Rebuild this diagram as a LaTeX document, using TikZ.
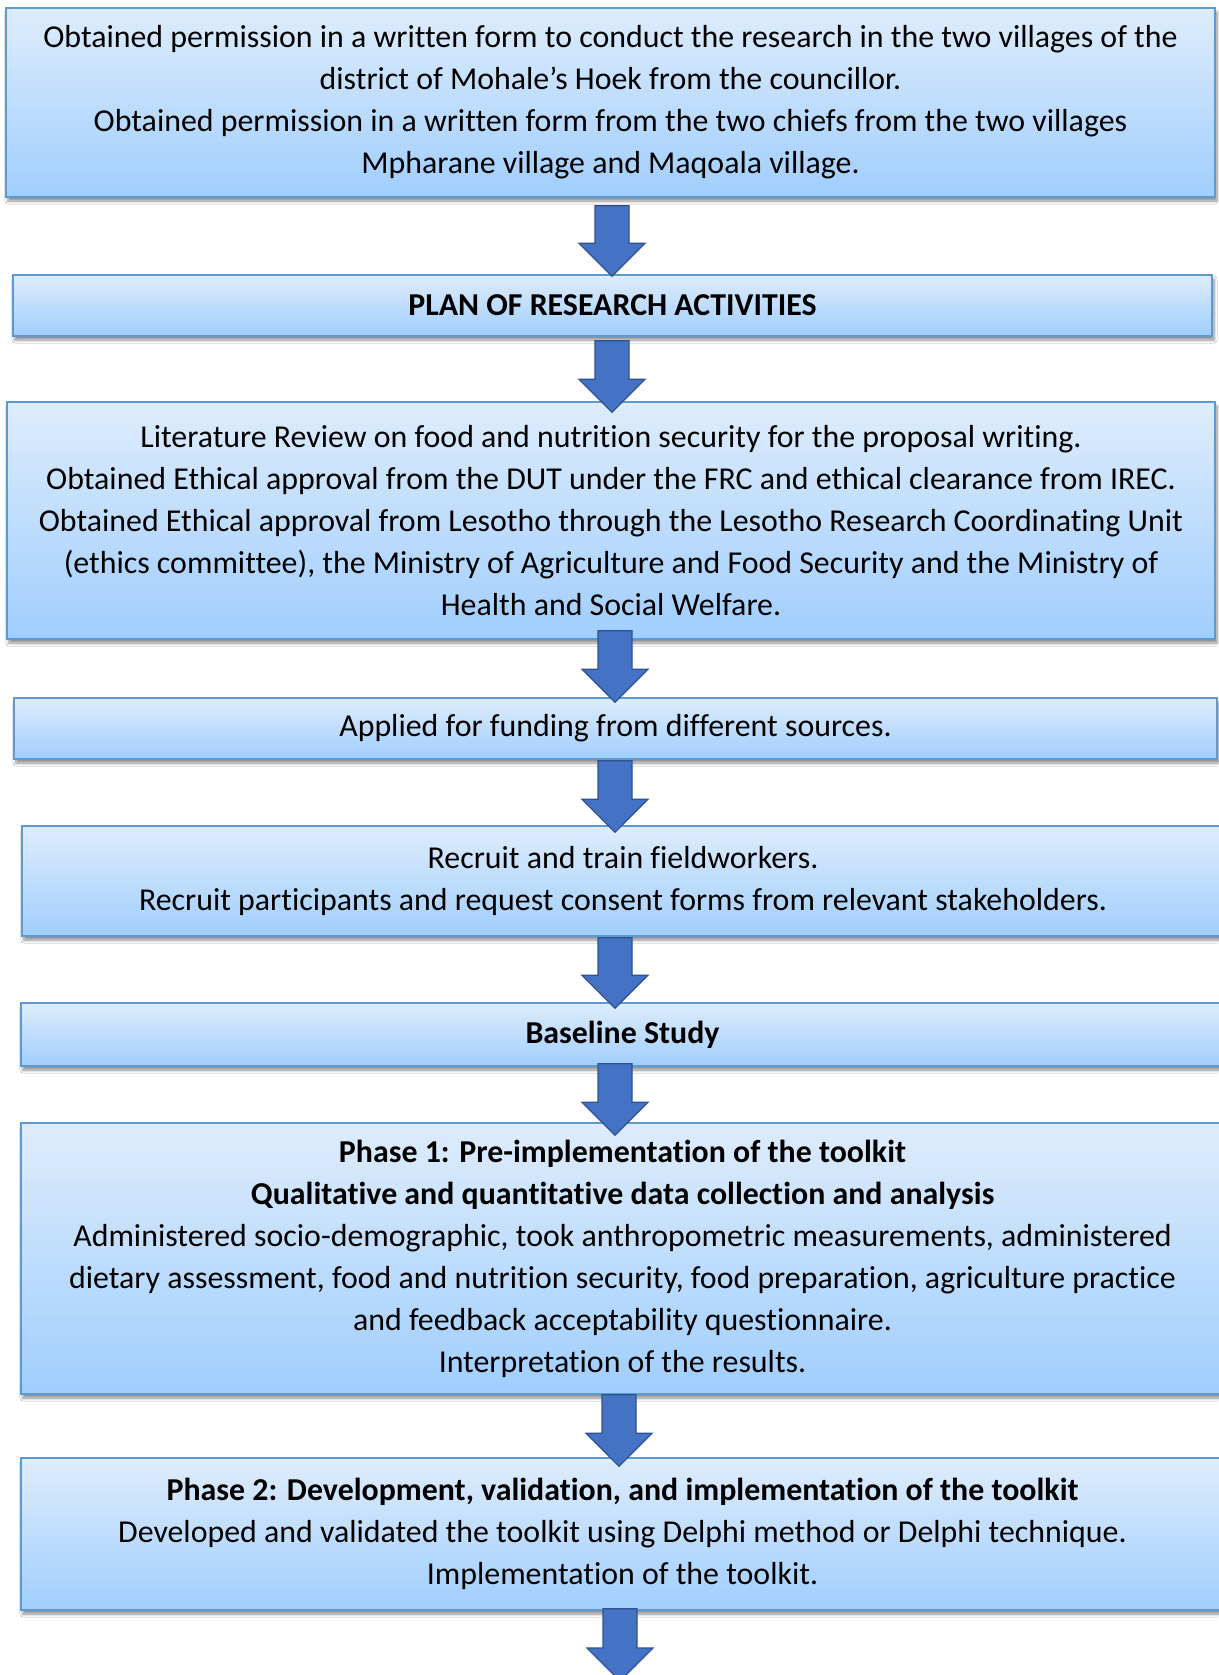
\documentclass[tikz,border=0pt]{standalone}
\usepackage{fontspec}
\setmainfont{Carlito}[Ligatures={NoCommon}]
\usetikzlibrary{calc,shadows.blur}

\definecolor{boxtop}{HTML}{DEECFC}
\definecolor{boxbot}{HTML}{A0CEFD}
\definecolor{boxline}{HTML}{5B9BD5}
\definecolor{arrowfill}{HTML}{4472C4}
\definecolor{arrowline}{HTML}{2F528F}

\tikzset{
  stagebox/.style={
    rectangle, draw=boxline, line width=1.6bp,
    top color=boxtop, bottom color=boxbot,
    inner sep=0pt, align=center,
    font=\fontsize{32}{42.2}\selectfont,
    blur shadow={shadow xshift=2bp, shadow yshift=-4bp,
      shadow blur radius=3bp, shadow blur steps=6, shadow opacity=45}
  },
  blockarrow/.style={fill=arrowfill, draw=arrowline, line width=1.2bp, line join=miter}
}

% block arrow from a start point down to a tip point
\newcommand\flowarrow[2]{%
  \path[blockarrow] let \p1=(#1), \p2=(#2) in
    (\x1-17bp,\y1) -- (\x1+17bp,\y1) -- (\x1+17bp,\y2+33bp)
    -- (\x1+33bp,\y2+33bp) -- (\x1,\y2) -- (\x1-33bp,\y2+33bp)
    -- (\x1-17bp,\y2+33bp) -- cycle;}

\begin{document}
\begin{tikzpicture}[x=1bp,y=-1bp]
\useasboundingbox[fill=white] (0,0) rectangle (1218,1675);

\node[stagebox, minimum width=1209bp, minimum height=189bp] (b1) at (610.5,102.5)
  {Obtained permission in a written form to conduct the research in the two villages of the\\
   district of Mohale’s Hoek from the councillor.\\
   Obtained permission in a written form from the two chiefs from the two villages\\
   Mpharane village and Maqoala village.};

\node[stagebox, minimum width=1199bp, minimum height=61bp] (b2) at (612.5,305.5)
  {\textbf{PLAN OF RESEARCH ACTIVITIES}};

\node[stagebox, minimum width=1208bp, minimum height=237bp] (b3) at (611,520.5)
  {Literature Review on food and nutrition security for the proposal writing.\\
   Obtained Ethical approval from the DUT under the FRC and ethical clearance from IREC.\\
   Obtained Ethical approval from Lesotho through the Lesotho Research Coordinating Unit\\
   (ethics committee), the Ministry of Agriculture and Food Security and the Ministry of\\
   Health and Social Welfare.};

\node[stagebox, minimum width=1203bp, minimum height=61bp] (b4) at (615.5,728.5)
  {Applied for funding from different sources.};

\node[stagebox, minimum width=1202bp, minimum height=110bp] (b5) at (623,881)
  {Recruit and train fieldworkers.\\
   Recruit participants and request consent forms from relevant stakeholders.};

\node[stagebox, minimum width=1203bp, minimum height=63bp] (b6) at (622.5,1034.5)
  {\textbf{Baseline Study}};

\node[stagebox, minimum width=1203bp, minimum height=271bp] (b7) at (622.5,1258.5)
  {\textbf{Phase 1: Pre-implementation of the toolkit}\\
   \textbf{Qualitative and quantitative data collection and analysis}\\
   Administered socio-demographic, took anthropometric measurements, administered\\
   dietary assessment, food and nutrition security, food preparation, agriculture practice\\
   and feedback acceptability questionnaire.\\
   Interpretation of the results.};

\node[stagebox, minimum width=1203bp, minimum height=152bp] (b8) at (622.5,1534)
  {\textbf{Phase 2: Development, validation, and implementation of the toolkit}\\
   Developed and validated the toolkit using Delphi method or Delphi technique.\\
   Implementation of the toolkit.};

\coordinate (next) at (620,1681);

\flowarrow{$(b1.south)+(1.5,8)$}{$(b2.north)+(0,2)$}
\flowarrow{$(b2.south)+(-0.5,4)$}{$(b3.north)+(0,11)$}
\flowarrow{$(b3.south)+(4,-9)$}{$(b4.north)+(0,5)$}
\flowarrow{$(b4.south)+(-0.5,1)$}{$(b5.north)+(0,7)$}
\flowarrow{$(b5.south)+(-8,1)$}{$(b6.north)+(0,6)$}
\flowarrow{$(b6.south)+(-7.5,-3)$}{$(b7.north)+(0,13)$}
\flowarrow{$(b7.south)+(-3.5,0)$}{$(b8.north)+(0,9)$}
\flowarrow{$(b8.south)+(-2.5,-2)$}{next}
\end{tikzpicture}
\end{document}
